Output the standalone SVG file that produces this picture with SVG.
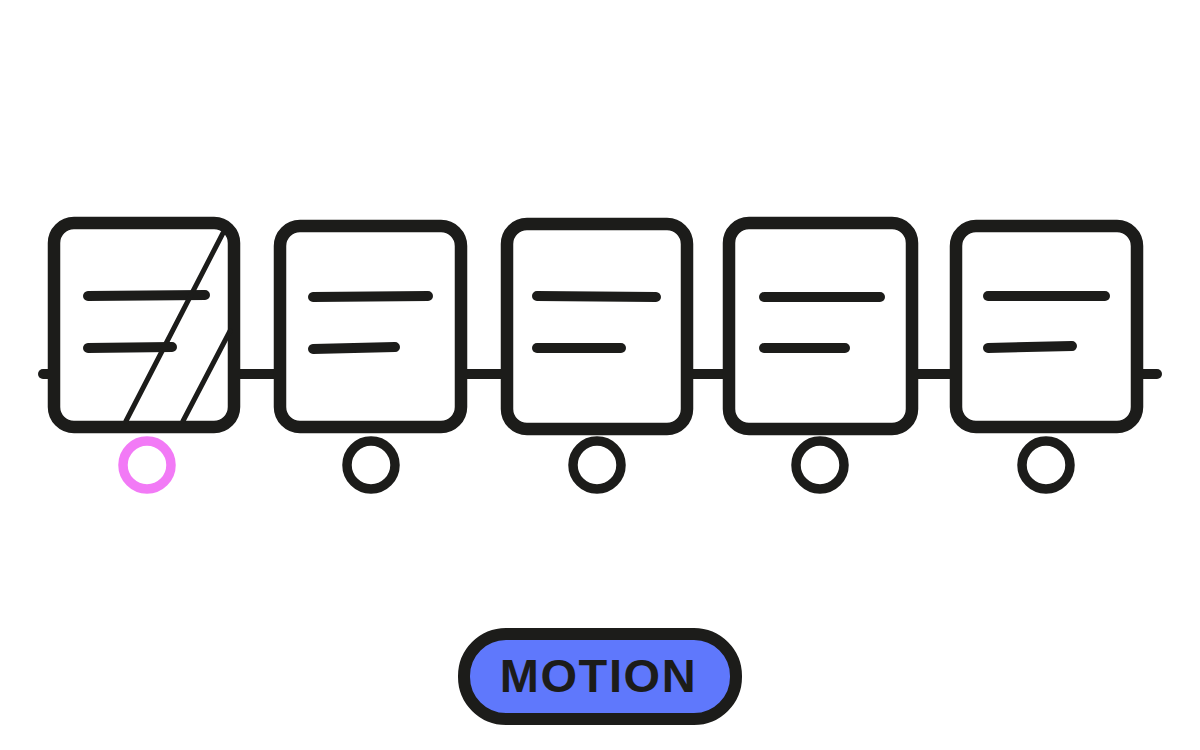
<svg xmlns="http://www.w3.org/2000/svg" width="1200" height="750" viewBox="0 0 1200 750">
<style>
.box{fill:#fff;stroke:#1c1c1a;stroke-width:12.5;stroke-linejoin:round}
.bar{stroke:#1c1c1a;stroke-width:10;stroke-linecap:round;fill:none}
.wheel{fill:none;stroke:#1c1c1a;stroke-width:9.5}
.slash{stroke:#1c1c1a;stroke-width:5;stroke-linecap:round}
.btn{fill:#5f78fc;stroke:#1c1c1a;stroke-width:12}
.lbl{font-family:"Liberation Sans",Arial,sans-serif;font-weight:bold;font-size:47px;letter-spacing:1.6px;fill:#1c1c1a}
</style>
<rect width="1200" height="750" fill="#fff"/>
<g id="connectors">
<line class="bar" x1="43" y1="374" x2="1157" y2="374"/>
</g>
<g id="car1">
<rect class="box" x="54" y="223" width="180" height="204" rx="20"/>
<path class="bar" d="M88 296 L205 295"/>
<path class="bar" d="M88 348 L172 347"/>
<line class="slash" x1="223" y1="233" x2="126" y2="421"/>
<line class="slash" x1="230" y1="331" x2="183" y2="421"/>
<circle cx="147" cy="465" r="24" fill="none" stroke="#f27af6" stroke-width="9.5"/>
</g>
<g id="car2">
<rect class="box" x="280" y="226" width="181" height="201" rx="20"/>
<path class="bar" d="M313 297 L428 296"/>
<path class="bar" d="M313 349 L395 347"/>
<circle class="wheel" cx="371" cy="465" r="24"/>
</g>
<g id="car3">
<rect class="box" x="507" y="224" width="180" height="205" rx="20"/>
<path class="bar" d="M537 296 L656 297"/>
<path class="bar" d="M537 348 L621 348"/>
<circle class="wheel" cx="597" cy="465" r="24"/>
</g>
<g id="car4">
<rect class="box" x="729" y="223" width="183" height="206" rx="20"/>
<path class="bar" d="M764 297 L880 297"/>
<path class="bar" d="M764 348 L845 348"/>
<circle class="wheel" cx="820" cy="465" r="24"/>
</g>
<g id="car5">
<rect class="box" x="956" y="226" width="181" height="201" rx="20"/>
<path class="bar" d="M988 296 L1105 296"/>
<path class="bar" d="M988 348 L1072 346"/>
<circle class="wheel" cx="1046" cy="465" r="24"/>
</g>
<g id="motion-button">
<rect class="btn" x="464" y="634" width="272" height="85" rx="42"/>
<text class="lbl" x="598.5" y="692" text-anchor="middle">MOTION</text>
</g>
</svg>
